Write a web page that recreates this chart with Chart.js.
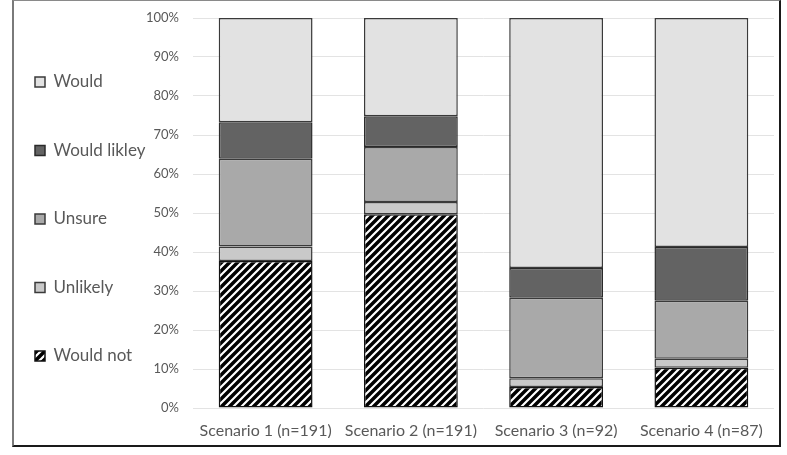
<!DOCTYPE html>
<html>
<head>
<meta charset="utf-8">
<script src="https://cdn.jsdelivr.net/npm/chart.js@4/dist/chart.umd.min.js"></script>
<style>
  html, body { margin: 0; padding: 0; background: #fff; }
  #wrap { position: relative; width: 787px; height: 455px; }
  #chart { position: absolute; left: 0; top: 0; }
  #frame {
    position: absolute; left: 12px; top: 0; width: 769px; height: 447px;
    box-sizing: border-box; pointer-events: none;
    border-top: 1px solid #8a8a8a; border-left: 2px solid #7a7a7a;
    border-right: 2px solid #1a1a1a; border-bottom: 2px solid #1a1a1a;
  }
</style>
</head>
<body>
<div id="wrap">
  <canvas id="chart" width="787" height="455"></canvas>
  <div id="frame"></div>
</div>
<script>
// data (percent of respondents)
const categories = ['Scenario 1 (n=191)', 'Scenario 2 (n=191)', 'Scenario 3 (n=92)', 'Scenario 4 (n=87)'];
const wouldNot = [37.7, 49.7, 5.4, 10.3];
const unlikely = [3.7, 3.1, 2.2, 2.3];
const unsure = [22.5, 14.1, 20.7, 14.9];
const wouldLikley = [9.4, 7.9, 7.6, 13.8];
const would = [26.7, 25.2, 64.1, 58.7];
const yTicks = [0, 10, 20, 30, 40, 50, 60, 70, 80, 90, 100];

const textColor = '#595959';
const fontFamily = 'Lato, "Open Sans", sans-serif';

// black / white diagonal hatch for "Would not"
const makeHatch = () => {
    const c = document.createElement('canvas');
    c.width = 8; c.height = 8;
    const g = c.getContext('2d');
    g.fillStyle = '#000';
    g.fillRect(0, 0, 8, 8);
    g.strokeStyle = '#fff';
    g.lineWidth = 2.2;
    g.beginPath();
    g.moveTo(-1, 9); g.lineTo(9, -1);
    g.moveTo(-5, 5); g.lineTo(5, -5);
    g.moveTo(3, 13); g.lineTo(13, 3);
    g.stroke();
    return g.createPattern(c, 'repeat');
};

const ctx = document.getElementById('chart').getContext('2d');
const hatch = makeHatch();

const seg = (label, data, fill, border) => ({
    label: label,
    data: data,
    backgroundColor: fill,
    borderColor: border,
    borderWidth: 1.5,
    borderSkipped: false,
    categoryPercentage: 1.0,
    barPercentage: 0.646
});

new Chart(ctx, {
    type: 'bar',
    data: {
        labels: categories,
        datasets: [
            seg('Would not', wouldNot, hatch, '#111'),
            seg('Unlikely', unlikely, '#c9c9c9', '#3a3a3a'),
            seg('Unsure', unsure, '#a9a9a9', '#3a3a3a'),
            seg('Would likley', wouldLikley, '#636363', '#2a2a2a'),
            seg('Would', would, '#e2e2e2', '#3a3a3a')
        ]
    },
    options: {
        responsive: false,
        animation: false,
        layout: { padding: { left: -16.5, right: 13, top: 0, bottom: 17 } },
        plugins: {
            tooltip: { enabled: false },
            legend: {
                position: 'left',
                reverse: true,
                maxWidth: 162,
                labels: {
                    boxWidth: 10,
                    boxHeight: 10,
                    padding: 51.5,
                    color: textColor,
                    font: { family: fontFamily, size: 17 }
                }
            }
        },
        scales: {
            x: {
                stacked: true,
                grid: { display: false, drawTicks: false },
                border: { display: false },
                ticks: { color: textColor, padding: 13, font: { family: fontFamily, size: 16 } },
                afterFit: (axis) => { axis.height = 30; }
            },
            y: {
                stacked: true,
                min: 0,
                max: 100,
                grid: { color: '#e3e3e3', lineWidth: 1, drawTicks: false },
                border: { display: false },
                afterBuildTicks: (axis) => { axis.ticks = yTicks.map(v => ({ value: v })); },
                ticks: {
                    color: textColor,
                    padding: 14,
                    font: { family: fontFamily, size: 13 },
                    callback: (v) => v + '%'
                },
                afterFit: (axis) => { axis.width = 47.5; axis.paddingTop = 18; }
            }
        }
    }
});
</script>
</body>
</html>
